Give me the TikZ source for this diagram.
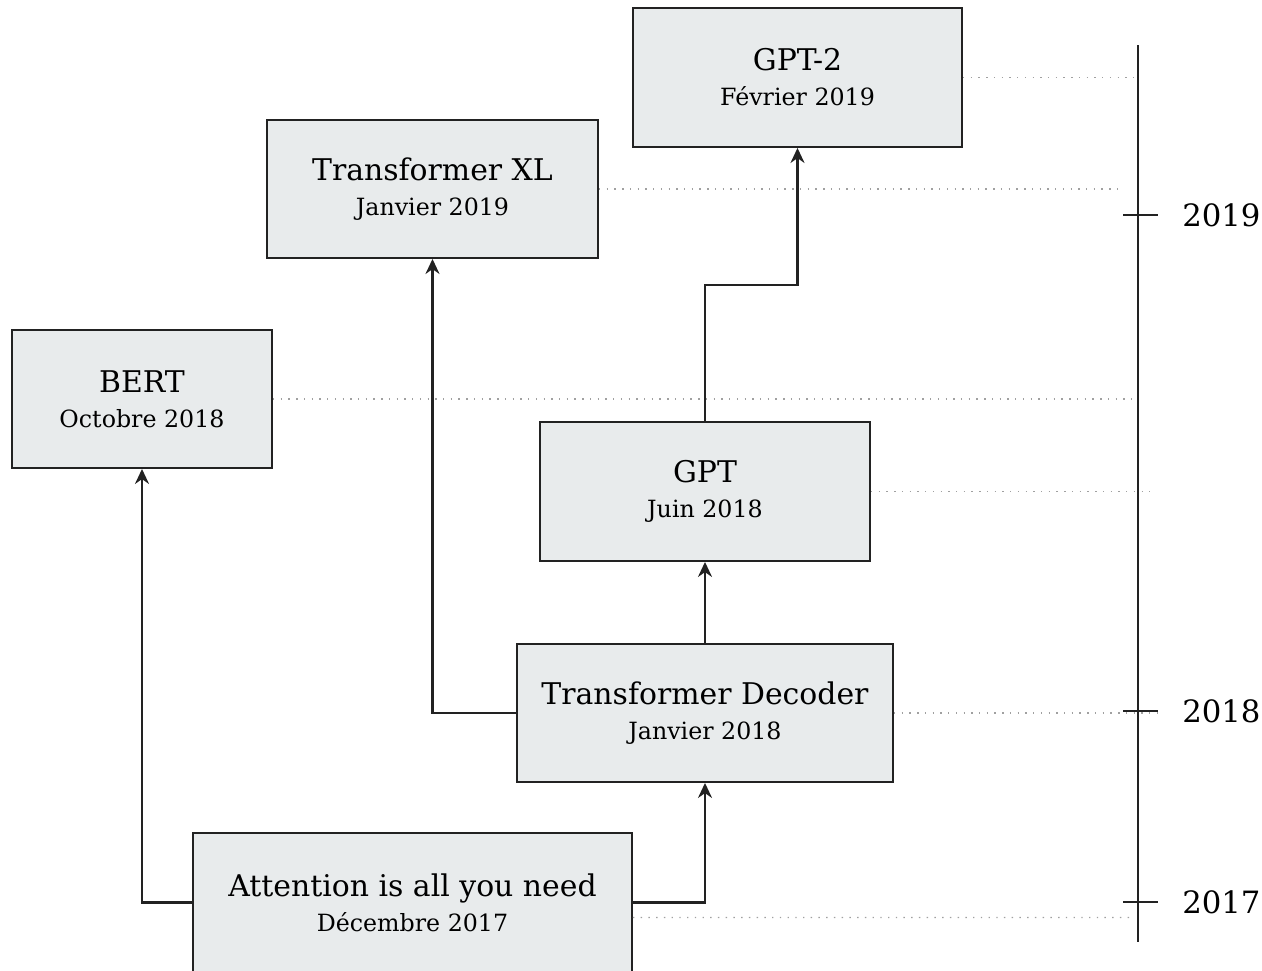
\documentclass[tikz,border=0pt]{standalone}
\usepackage{fontspec}
\setmainfont{DejaVu Serif}
\usepackage{xcolor}
\usepackage{tikz}
\usetikzlibrary{arrows.meta,positioning}
\definecolor{boxfill}{HTML}{E8EBEC}
\definecolor{inkgray}{HTML}{222222}
\definecolor{dotgray}{HTML}{A0A0A0}
\tikzset{>={Stealth[length=3mm,width=2.8mm]}}
\newcommand{\titre}[2]{{\fontsize{17}{20}\selectfont #1}\\#2}

\begin{document}
\begin{tikzpicture}[x=0.02cm, y=-0.02cm,
                    mybox/.style={draw=inkgray, fill=boxfill, line width=1.1pt,
                                  align=center, inner sep=0pt, text=black,
                                  font=\fontsize{13.5}{20}\selectfont},
                    myarrow/.style={line width=1.3pt, inkgray, ->},
                    mydot/.style={line width=0.6pt, dotgray, dash pattern=on 0.8pt off 3.6pt},
                    axe/.style={line width=1.1pt, inkgray},
                    annee/.style={font=\fontsize{17.5}{20}\selectfont, anchor=west, text=black},
                   ]

\useasboundingbox (0,0) rectangle (1262,971);

% les boites
\node[mybox, minimum width=6.58cm, minimum height=2.78cm] (gptdeux) at (797.5,77.5) {\titre{GPT-2}{Février 2019}};
\node[mybox, minimum width=6.62cm, minimum height=2.76cm] (txl) at (432.5,189) {\titre{Transformer XL}{Janvier 2019}};
\node[mybox, minimum width=5.20cm, minimum height=2.76cm] (bert) at (142,399) {\titre{BERT}{Octobre 2018}};
\node[mybox, minimum width=6.60cm, minimum height=2.78cm] (gpt) at (705,491.5) {\titre{GPT}{Juin 2018}};
\node[mybox, minimum width=7.52cm, minimum height=2.76cm] (decoder) at (705,713) {\titre{Transformer Decoder}{Janvier 2018}};
\node[mybox, minimum width=8.78cm, minimum height=2.78cm] (attn) at (412.5,902.5) {\titre{Attention is all you need}{Décembre 2017}};

% les liens
\coordinate (coude) at (705,285);
\draw[myarrow] (attn.west) -| (bert.south);
\draw[myarrow] (attn.east) -| (decoder.south);
\draw[myarrow] (decoder.west) -| (txl.south);
\draw[myarrow] (decoder.north) -- (gpt.south);
\draw[myarrow] (gpt.north) -- (coude) -| (gptdeux.south);

% l'axe du temps
\coordinate (haut) at (1138,45);
\coordinate (bas) at (1138,942);
\draw[axe] (haut) -- (bas);
\draw[axe] (1123,215) -- (1158,215) node[annee, xshift=3.5mm] (a2019) {2019};
\draw[axe] (1123,711) -- (1158,711) node[annee, xshift=3.5mm] (a2018) {2018};
\draw[axe] (1123,902) -- (1158,902) node[annee, xshift=3.5mm] (a2017) {2017};

% les pointilles
\draw[mydot] (gptdeux.east) -- (1138,77.5);
\draw[mydot] (txl.east) -- (1120,189);
\draw[mydot] (bert.east) -- (1138,399);
\draw[mydot] (gpt.east) -- (1150,491.5);
\draw[mydot] (decoder.east) -- (1160,713);
\draw[mydot] ([yshift=-0.3cm]attn.east) -- (1135,917.5);

\end{tikzpicture}
\end{document}
